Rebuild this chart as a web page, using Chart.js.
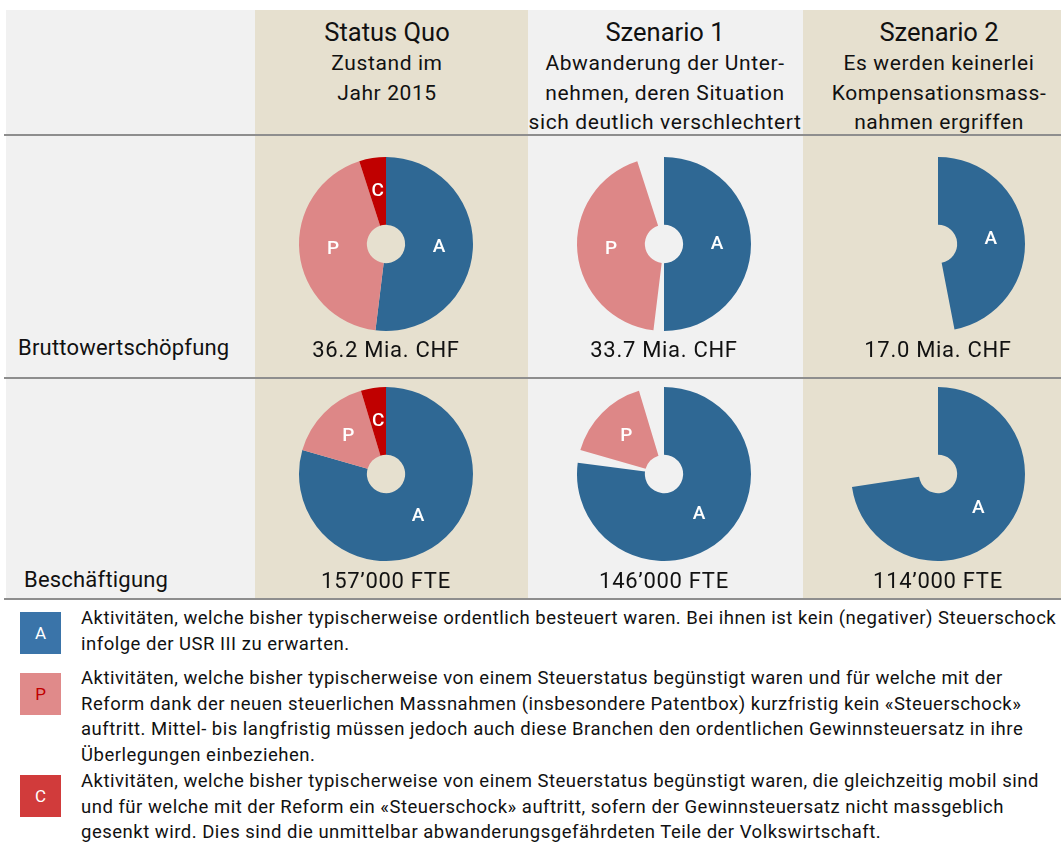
<!DOCTYPE html>
<html lang="de">
<head>
<meta charset="utf-8">
<script src="https://cdn.jsdelivr.net/npm/chart.js@4.4.1/dist/chart.umd.min.js"></script>
<style>
    body { margin: 0; width: 1061px; height: 846px; overflow: hidden; background: #fff; font-family: Roboto, "Liberation Sans", sans-serif; color: #111; position: relative; }
    .abs { position: absolute; }
    .feld { background: #f1f1f1; }
    .beige { background: #e6e0cf; }
    .linie { background: #8e8e8e; height: 2px; }
    .kopf { text-align: center; width: 320px; }
    .kopf .titel { font-size: 25.5px; line-height: 30px; }
    .kopf .text { font-size: 21px; line-height: 29.5px; margin-top: 2px; letter-spacing: 0.6px; }
    .wert { font-size: 22px; width: 240px; text-align: center; line-height: 24px; letter-spacing: 0.7px; }
    .zeile { font-size: 22px; line-height: 24px; letter-spacing: 0.2px; }
    .box { width: 41px; height: 42px; color: #fff; font-size: 17px; display: flex; align-items: center; justify-content: center; }
    .leg { font-size: 18.5px; line-height: 25.5px; white-space: nowrap; left: 81px; letter-spacing: 0.5px; }
    canvas { position: absolute; }
</style>
</head>
<body>

<div class="abs feld" style="left:6px; top:10px; width:1055px; height:590px;"></div>
<div class="abs beige" style="left:255px; top:10px; width:273px; height:590px;"></div>
<div class="abs beige" style="left:803px; top:10px; width:258px; height:590px;"></div>
<div class="abs linie" style="left:4px; top:134px; width:1057px;"></div>
<div class="abs linie" style="left:4px; top:377px; width:1057px;"></div>
<div class="abs linie" style="left:4px; top:598px; width:1057px;"></div>

<div id="koepfe"></div>

<div class="abs zeile" style="left:18px; top:336px;">Bruttowertschöpfung</div>
<div class="abs zeile" style="left:24px; top:568px;">Beschäftigung</div>

<div class="abs box" style="left:20px; top:612px; background:#3a74a9;">A</div>
<div class="abs leg" style="top:606px;">Aktivitäten, welche bisher typischerweise ordentlich besteuert waren. Bei ihnen ist kein (negativer) Steuerschock<br>infolge der USR III zu erwarten.</div>
<div class="abs box" style="left:20px; top:673px; background:#e08a8a; color:#c00000;">P</div>
<div class="abs leg" style="top:666px;">Aktivitäten, welche bisher typischerweise von einem Steuerstatus begünstigt waren und für welche mit der<br>Reform dank der neuen steuerlichen Massnahmen (insbesondere Patentbox) kurzfristig kein «Steuerschock»<br>auftritt. Mittel- bis langfristig müssen jedoch auch diese Branchen den ordentlichen Gewinnsteuersatz in ihre<br>Überlegungen einbeziehen.</div>
<div class="abs box" style="left:20px; top:775px; background:#d13b3b;">C</div>
<div class="abs leg" style="top:769px;">Aktivitäten, welche bisher typischerweise von einem Steuerstatus begünstigt waren, die gleichzeitig mobil sind<br>und für welche mit der Reform ein «Steuerschock» auftritt, sofern der Gewinnsteuersatz nicht massgeblich<br>gesenkt wird. Dies sind die unmittelbar abwanderungsgefährdeten Teile der Volkswirtschaft.</div>

<script>
// Szenarien (Spalten)
const szenarien = ['Status Quo', 'Szenario 1', 'Szenario 2'];
const untertitel = [
    ['Zustand im', 'Jahr 2015'],
    ['Abwanderung der Unter-', 'nehmen, deren Situation', 'sich deutlich verschlechtert'],
    ['Es werden keinerlei', 'Kompensationsmass-', 'nahmen ergriffen']
];
const kategorien = ['A', 'P', 'C'];

// Bruttowertschöpfung in Mia. CHF
const bwsA = [18.8, 18.1, 17.0];
const bwsP = [15.6, 15.6, 0];
const bwsC = [1.8, 0, 0];

// Beschäftigung in FTE
const fteA = [124700, 121000, 114000];
const fteP = [25000, 25000, 0];
const fteC = [7300, 0, 0];

const farben = ['#2f6894', '#dd8787', '#c00000'];
const spaltenX = [386, 664, 938];

// Kopfzeilen
let koepfe = document.getElementById('koepfe');
for (let i = 0; i < szenarien.length; i++) {
    let div = document.createElement('div');
    div.className = 'abs kopf';
    div.style.left = (spaltenX[i] + 1 - 160) + 'px';
    div.style.top = '17px';
    div.innerHTML = `<div class="titel">${szenarien[i]}</div><div class="text">${untertitel[i].join('<br>')}</div>`;
    koepfe.appendChild(div);
}

// Beschriftung A / P / C in den Segmenten
const beschriftung = {
    id: 'beschriftung',
    afterDatasetsDraw(chart) {
        const ctx = chart.ctx;
        const meta = chart.getDatasetMeta(0);
        meta.data.forEach((arc, i) => {
            let txt = chart.data.labels[i];
            if (!txt || chart.data.datasets[0].data[i] <= 0) return;
            let pos = arc.tooltipPosition();
            ctx.save();
            ctx.fillStyle = '#ffffff';
            ctx.font = '500 19px Roboto, "Liberation Sans", sans-serif';
            ctx.textAlign = 'center';
            ctx.textBaseline = 'middle';
            ctx.fillText(txt, pos.x, pos.y);
            ctx.restore();
        });
    }
};

function zeichneTorte(cx, cy, a, p, c, refA, refP, refC) {
    let canvas = document.createElement('canvas');
    canvas.width = 200;
    canvas.height = 200;
    canvas.style.left = (cx - 100) + 'px';
    canvas.style.top = (cy - 100) + 'px';
    document.body.appendChild(canvas);

    // fehlende Anteile gegenüber dem Status Quo bleiben als Lücke stehen
    let daten = [a, refA - a, p, refP - p, c, refC - c];

    new Chart(canvas, {
        type: 'doughnut',
        data: {
            labels: ['A', '', 'P', '', 'C', ''],
            datasets: [{
                data: daten,
                backgroundColor: [farben[0], 'rgba(0,0,0,0)', farben[1], 'rgba(0,0,0,0)', farben[2], 'rgba(0,0,0,0)'],
                borderWidth: 0
            }]
        },
        options: {
            responsive: false,
            animation: false,
            radius: 87,
            cutout: 22,
            layout: { padding: 0 },
            plugins: { legend: { display: false }, tooltip: { enabled: false } }
        },
        plugins: [beschriftung]
    });
}

function wertText(x, y, txt) {
    let div = document.createElement('div');
    div.className = 'abs wert';
    div.style.left = (x - 120) + 'px';
    div.style.top = y + 'px';
    div.textContent = txt;
    document.body.appendChild(div);
}

for (let i = 0; i < szenarien.length; i++) {
    zeichneTorte(spaltenX[i], 243.5, bwsA[i], bwsP[i], bwsC[i], bwsA[0], bwsP[0], bwsC[0]);
    zeichneTorte(spaltenX[i], 474, fteA[i], fteP[i], fteC[i], fteA[0], fteP[0], fteC[0]);

    let summeBws = bwsA[i] + bwsP[i] + bwsC[i];
    wertText(spaltenX[i], 338, summeBws.toFixed(1) + ' Mia. CHF');

    let summeFte = fteA[i] + fteP[i] + fteC[i];
    wertText(spaltenX[i], 569, Math.round(summeFte / 1000) + '’000 FTE');
}
</script>
</body>
</html>
